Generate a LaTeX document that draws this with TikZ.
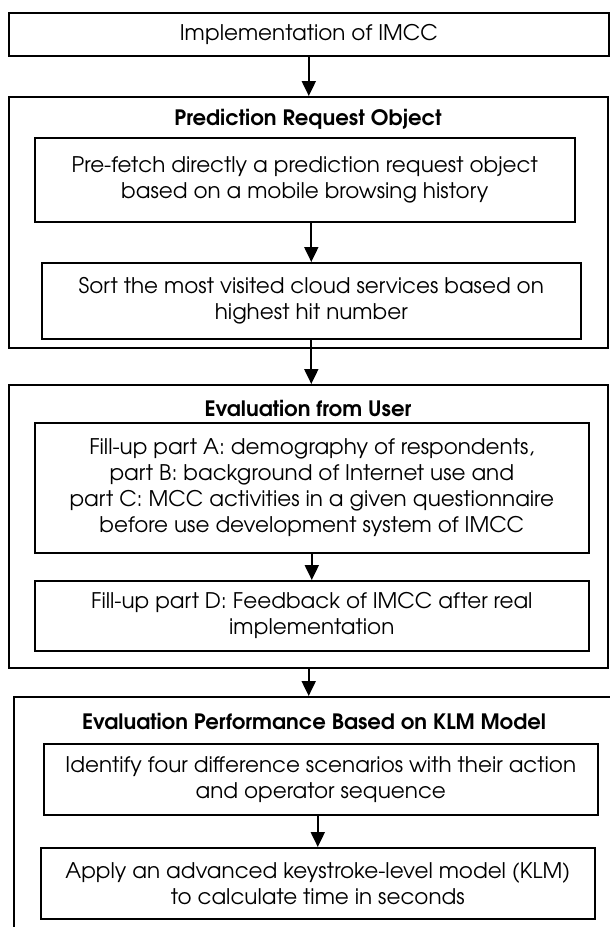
\documentclass[tikz,border=0pt]{standalone}
\usepackage{fontspec}
\setmainfont{TeX Gyre Adventor}
\usetikzlibrary{arrows.meta}
\begin{document}
\begin{tikzpicture}[x=1pt,y=-1pt,
  box/.style={draw, line width=1.6pt, inner sep=0pt, anchor=north west, align=center,
    font=\fontsize{21.5}{26}\selectfont},
  outer/.style={draw, line width=2.4pt, inner sep=0pt, anchor=north west},
  ttl/.style={font=\fontsize{21.2}{24}\selectfont\bfseries, inner sep=0pt},
  arr/.style={line width=2pt, -{Triangle[length=15pt,width=14pt]}}]
\useasboundingbox (0,0) rectangle (610,927);
\clip (0,0) rectangle (610,927);
\fill[white] (0,0) rectangle (610,927);

\node[box, minimum width=600pt, minimum height=43pt] (top) at (8,12) {Implementation of IMCC};

\node[outer, minimum width=599pt, minimum height=251pt] (o1) at (8,96) {};
\node[ttl] (t1) at (308,119) {Prediction Request Object};
\node[box, minimum width=540pt, minimum height=84pt] (a1) at (34,137)
  {Pre-fetch directly a prediction request object\\based on a mobile browsing history};
\node[box, minimum width=539pt, minimum height=76pt] (b1) at (41,262)
  {Sort the most visited cloud services based on\\highest hit number};

\node[outer, minimum width=599pt, minimum height=283pt] (o2) at (8,384) {};
\node[ttl] (t2) at (308,409) {Evaluation from User};
\node[box, minimum width=554pt, minimum height=130pt] (a2) at (34,422)
  {Fill-up part A: demography of respondents,\\part B: background of Internet use and\\part C: MCC activities in a given questionnaire\\before use development system of IMCC};
\node[box, minimum width=554pt, minimum height=70pt] (b2) at (34,580)
  {Fill-up part D: Feedback of IMCC after real\\implementation};

\node[outer, minimum width=610pt, minimum height=260pt] (o3) at (13,696) {};
\node[ttl] (t3) at (314,721) {Evaluation Performance Based on KLM Model};
\node[box, minimum width=554pt, minimum height=71pt] (a3) at (43,743)
  {Identify four difference scenarios with their action\\and operator sequence};
\node[box, minimum width=554pt, minimum height=71pt] (b3) at (40,847)
  {Apply an advanced keystroke-level model (KLM)\\to calculate time in seconds};

\draw[arr] (top.south) -- (top.south |- o1.north);
\draw[arr] (b1.north |- a1.south) -- (b1.north);
\draw[arr] (b1.south) -- (b1.south |- o2.north);
\draw[arr] (a2.south) -- (a2.south |- b2.north);
\draw[arr] (o2.south) -- (o2.south |- o3.north);
\draw[arr] (b3.north |- a3.south) -- (b3.north);
\end{tikzpicture}
\end{document}
